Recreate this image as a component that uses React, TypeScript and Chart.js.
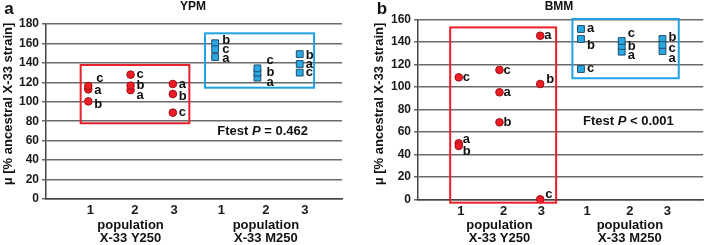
import React, { useEffect, useRef } from "react";
import { Chart, registerables } from "chart.js";
Chart.register(...registerables);

const FONT = '"Liberation Sans", Arial, Helvetica, sans-serif';

// ---- data ----
const populations = [1, 2, 3];
const replicateLetters = ["a", "b", "c"];
const xTickPositions = [1.05, 2.1, 3.03, 4.15, 5.2, 6.12];
const xTickLabels = ["1", "2", "3", "1", "2", "3"];
const groupCenters = [2.0, 5.2];
const groupLabels = [["population", "X-33 Y250"], ["population", "X-33 M250"]];

// YPM (values for replicates a, b, c)
const ypmY250Pop1 = [112.8, 100.4, 116.2];
const ypmY250Pop2 = [112.0, 116.6, 127.9];
const ypmY250Pop3 = [118.3, 108.0, 88.8];
const ypmM250Pop1 = [146.0, 160.2, 154.0];
const ypmM250Pop2 = [124.8, 130.0, 134.4];
const ypmM250Pop3 = [138.9, 149.0, 130.0];
// BMM
const bmmY250Pop1 = [49.8, 47.4, 108.4];
const bmmY250Pop2 = [95.1, 68.4, 115.0];
const bmmY250Pop3 = [145.4, 102.5, 0];
const bmmM250Pop1 = [151.4, 142.5, 115.8];
const bmmM250Pop2 = [131.2, 136.3, 140.7];
const bmmM250Pop3 = [131.8, 142.5, 137.2];

// label offsets (px) for letters a, b, c next to each point
const ypmY250LabelOffsets = [[[6, 1], [6, 3], [8, -8]], [[6, 5], [6, 0], [6, 0]], [[6, 0], [6, 2], [6, 0]]];
const ypmM250LabelOffsets = [[[7, 1], [7, -3], [7, 0]], [[9, 5], [9, 0], [9, -8]], [[6, 0], [6, 1], [6, 0]]];
const bmmY250LabelOffsets = [[[4, -4], [4, 5], [4, 0]], [[4, 0], [4, 0], [4, 0]], [[4, 0], [6, -5], [5, -5]]];
const bmmM250LabelOffsets = [[[6, -1], [6, 6], [6, -1]], [[6, 4], [6, 0], [6, -8]], [[6, 7], [6, -2], [6, 3]]];

type Cfg = {
  title: string;
  letter: string;
  yMax: number;
  y250: number[][];
  m250: number[][];
  y250Off: number[][][];
  m250Off: number[][][];
  redBox: number[];
  blueBox: number[];
  ftestRel: string;
  ftestVal: string;
  ftestY: number;
  yAxisWidth: number;
  padTop: number;
  padRight: number;
  xAxisHeight: number;
  titleX: number;
  letterX: number;
  yLabelX: number;
};

const ypmCfg: Cfg = {
  title: "YPM",
  letter: "a",
  yMax: 180,
  y250: [ypmY250Pop1, ypmY250Pop2, ypmY250Pop3],
  m250: [ypmM250Pop1, ypmM250Pop2, ypmM250Pop3],
  y250Off: ypmY250LabelOffsets,
  m250Off: ypmM250LabelOffsets,
  redBox: [0.82, 3.39, 77.9, 137.8],
  blueBox: [3.76, 6.34, 114.5, 170.4],
  ftestRel: "=",
  ftestVal: "0.462",
  ftestY: 70,
  yAxisWidth: 46,
  padTop: 24,
  padRight: 13,
  xAxisHeight: 46,
  titleX: 193,
  letterX: 9,
  yLabelX: 8,
};

const bmmCfg: Cfg = {
  title: "BMM",
  letter: "b",
  yMax: 160,
  y250: [bmmY250Pop1, bmmY250Pop2, bmmY250Pop3],
  m250: [bmmM250Pop1, bmmM250Pop2, bmmM250Pop3],
  y250Off: bmmY250LabelOffsets,
  m250Off: bmmM250LabelOffsets,
  redBox: [0.79, 3.39, -3, 152.8],
  blueBox: [3.79, 6.4, 107.6, 160.3],
  ftestRel: "<",
  ftestVal: "0.001",
  ftestY: 69,
  yAxisWidth: 63,
  padTop: 19.3,
  padRight: 1.5,
  xAxisHeight: 45.7,
  titleX: 204,
  letterX: 27,
  yLabelX: 24,
};

function buildPoints(groups: number[][], xShift: number) {
  const pts: any[] = [];
  groups.forEach((vals, pi) => {
    vals.forEach((v, li) => {
      pts.push({ x: populations[pi] + xShift, y: v, l: replicateLetters[li] });
    });
  });
  return pts;
}

function makeChart(canvas: HTMLCanvasElement, cfg: Cfg) {
  const offsets = [cfg.y250Off.flat(), cfg.m250Off.flat()];
  const annot = {
    id: "annot",
    afterDatasetsDraw(chart: any) {
      const ctx = chart.ctx;
      const xs = chart.scales.x;
      const ys = chart.scales.y;
      ctx.save();
      // boxes
      const drawBox = (b: number[], color: string) => {
        const x1 = xs.getPixelForValue(b[0]);
        const x2 = xs.getPixelForValue(b[1]);
        const y1 = ys.getPixelForValue(b[3]);
        const y2 = ys.getPixelForValue(b[2]);
        ctx.strokeStyle = color;
        ctx.lineWidth = 2;
        ctx.strokeRect(x1, y1, x2 - x1, y2 - y1);
      };
      drawBox(cfg.redBox, "#e8202a");
      drawBox(cfg.blueBox, "#1ea2e4");
      // letters
      ctx.fillStyle = "#111";
      ctx.font = `bold 13px ${FONT}`;
      ctx.textAlign = "left";
      ctx.textBaseline = "middle";
      [0, 1].forEach((d) => {
        const meta = chart.getDatasetMeta(d);
        const data = chart.data.datasets[d].data as any[];
        meta.data.forEach((el: any, i: number) => {
          const o = offsets[d][i];
          ctx.fillText(data[i].l, el.x + o[0], el.y + o[1]);
        });
      });
      // Ftest
      let fx = xs.getPixelForValue(4.05);
      const fy = ys.getPixelForValue(cfg.ftestY);
      const seg = (t: string, italic: boolean) => {
        ctx.font = `${italic ? "italic " : ""}bold 13px ${FONT}`;
        ctx.fillText(t, fx, fy);
        fx += ctx.measureText(t).width;
      };
      seg("Ftest ", false);
      seg("P", true);
      seg(` ${cfg.ftestRel} ${cfg.ftestVal}`, false);
      // title & letter
      ctx.textAlign = "center";
      ctx.font = `bold 12px ${FONT}`;
      ctx.fillText(cfg.title, cfg.titleX, 7);
      ctx.font = `bold 17px ${FONT}`;
      ctx.fillText(cfg.letter, cfg.letterX, 9);
      // group labels
      ctx.font = `bold 13px ${FONT}`;
      groupCenters.forEach((g, gi) => {
        const gx = xs.getPixelForValue(g);
        ctx.fillText(groupLabels[gi][0], gx, 225);
        ctx.fillText(groupLabels[gi][1], gx, 238.5);
      });
      // y label
      ctx.save();
      ctx.translate(cfg.yLabelX, 104);
      ctx.rotate(-Math.PI / 2);
      ctx.font = `bold 13px ${FONT}`;
      ctx.fillText("μ [% ancestral X-33 strain]", 0, 0);
      ctx.restore();
      ctx.restore();
    },
  };

  return new Chart(canvas, {
    type: "scatter",
    data: {
      datasets: [
        {
          label: "X-33 Y250",
          data: buildPoints(cfg.y250, 0),
          pointStyle: "circle",
          pointRadius: 3.8,
          backgroundColor: "#ee1c25",
          borderColor: "#9e1016",
          borderWidth: 1,
          clip: false as any,
        },
        {
          label: "X-33 M250",
          data: buildPoints(cfg.m250, 3),
          pointStyle: "rect",
          pointRadius: 4.8,
          backgroundColor: "#2aa9e0",
          borderColor: "#1d4d72",
          borderWidth: 1,
          clip: false as any,
        },
      ],
    },
    options: {
      animation: false,
      responsive: false,
      maintainAspectRatio: false,
      devicePixelRatio: 1,
      layout: { padding: { left: 0, right: cfg.padRight, top: cfg.padTop, bottom: 0 } },
      plugins: { legend: { display: false }, tooltip: { enabled: false }, title: { display: false } },
      scales: {
        x: {
          type: "linear",
          min: 0,
          max: 7,
          afterBuildTicks: (s: any) => {
            s.ticks = xTickPositions.map((v) => ({ value: v }));
          },
          afterFit: (s: any) => {
            s.height = cfg.xAxisHeight;
          },
          ticks: {
            autoSkip: false,
            maxRotation: 0,
            padding: 4,
            color: "#1a1a1a",
            font: { family: FONT, size: 13, weight: "bold" },
            callback: (_v: any, i: number) => xTickLabels[i],
          },
          grid: { display: false, drawTicks: false },
          border: { display: true, color: "#444", width: 1.5 },
        },
        y: {
          type: "linear",
          min: 0,
          max: cfg.yMax,
          afterFit: (s: any) => {
            s.width = cfg.yAxisWidth;
          },
          ticks: {
            stepSize: 20,
            padding: 3,
            color: "#1a1a1a",
            font: { family: FONT, size: 12, weight: "bold" },
          },
          grid: { color: "#6a6a6a", lineWidth: 1.5, tickLength: 4 },
          border: { display: true, color: "#444", width: 1.5 },
        },
      },
    },
    plugins: [annot],
  } as any);
}

function Panel({ cfg, left, width }: { cfg: Cfg; left: number; width: number }) {
  const ref = useRef<HTMLCanvasElement>(null);
  useEffect(() => {
    if (!ref.current) return;
    const ch = makeChart(ref.current, cfg);
    return () => ch.destroy();
  }, [cfg]);
  return (
    <canvas
      ref={ref}
      width={width}
      height={245}
      style={{ position: "absolute", left, top: 0, width, height: 245 }}
    />
  );
}

export default function App() {
  return (
    <div style={{ position: "fixed", left: 0, top: 0, width: 709, height: 245, background: "#fff" }}>
      <Panel cfg={ypmCfg} left={0} width={355} />
      <Panel cfg={bmmCfg} left={355} width={354} />
    </div>
  );
}
